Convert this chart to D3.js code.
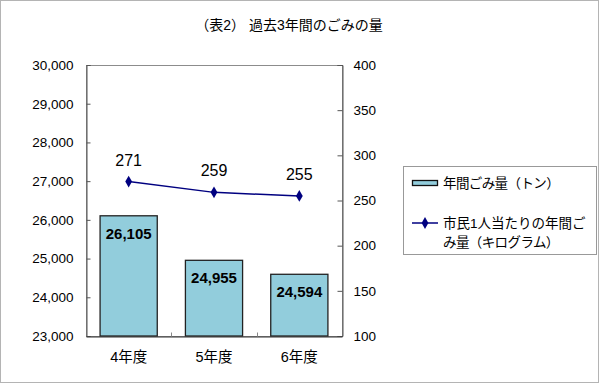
<html>
<head>
<meta charset="utf-8">
<style>
  body { margin: 0; background: #fff; }
  text { font-family: "Liberation Sans", Arial, "Noto Sans CJK JP", sans-serif; fill: #000; }
  .jp { font-family: "Liberation Sans", "Noto Sans CJK JP", sans-serif; }
</style>
</head>
<body>
<svg id="chart" width="600" height="385"></svg>
<script src="https://cdn.jsdelivr.net/npm/d3@7"></script>
<script>
  // data
  let categories = ["4年度", "5年度", "6年度"]
  let tonnage = [26105, 24955, 24594]
  let perCapita = [271, 259, 255]
  let leftTicks = [23000, 24000, 25000, 26000, 27000, 28000, 29000, 30000]
  let rightTicks = [100, 150, 200, 250, 300, 350, 400]
  let titleText = "（表2） 過去3年間のごみの量"
  let legendBar = "年間ごみ量（トン）"
  let legendLine = ["市民1人当たりの年間ご", "み量（キログラム）"]

  let svg = d3.select("#chart")

  // outer frame
  svg.append("rect")
      .attr("x", 0.5).attr("y", 0.5)
      .attr("width", 598).attr("height", 382)
      .attr("fill", "#fff").attr("stroke", "#b4b4b4")

  let plotL = 86, plotR = 342, plotT = 65, plotB = 336

  let x = d3.scaleBand().domain(categories).range([plotL, plotR])
  let yLeft = d3.scaleLinear().domain([23000, 30000]).range([plotB, plotT])
  let yRight = d3.scaleLinear().domain([100, 400]).range([plotB, plotT])

  // title
  svg.append("text")
      .attr("class", "jp")
      .attr("x", 289).attr("y", 30)
      .attr("text-anchor", "middle")
      .style("font-size", "14px")
      .text(titleText)

  // plot frame
  svg.append("rect")
      .attr("x", plotL + 0.5).attr("y", plotT + 0.5)
      .attr("width", plotR - plotL).attr("height", plotB - plotT)
      .attr("fill", "none").attr("stroke", "#8c8c8c")

  // bars
  let barW = x.bandwidth() * 0.67
  svg.selectAll(".bar")
      .data(tonnage)
      .enter().append("rect")
      .attr("class", "bar")
      .attr("x", (d, i) => x(categories[i]) + (x.bandwidth() - barW) / 2)
      .attr("y", d => yLeft(d))
      .attr("width", barW)
      .attr("height", d => plotB - yLeft(d))
      .attr("fill", "#92cddc")
      .attr("stroke", "#222")
      .attr("stroke-width", 1.3)

  // left axis
  let gl = svg.append("g")
      .attr("transform", "translate(" + (plotL + 0.5) + ",0)")
      .call(d3.axisRight(yLeft).tickValues(leftTicks).tickSize(4).tickFormat(d3.format(",")))
  gl.select(".domain").attr("stroke", "#555")
  gl.selectAll(".tick line").attr("stroke", "#555")
  gl.selectAll(".tick text")
      .attr("x", -13).attr("text-anchor", "end")
      .style("font-size", "13.5px").style("font-family", "'Liberation Sans', Arial")

  // right axis
  let gr = svg.append("g")
      .attr("transform", "translate(" + (plotR + 0.5) + ",0)")
      .call(d3.axisLeft(yRight).tickValues(rightTicks).tickSize(5))
  gr.select(".domain").attr("stroke", "#555")
  gr.selectAll(".tick line").attr("stroke", "#555")
  gr.selectAll(".tick text")
      .attr("x", 11).attr("text-anchor", "start")
      .style("font-size", "13.5px").style("font-family", "'Liberation Sans', Arial")

  // bottom axis
  let gb = svg.append("g")
      .attr("transform", "translate(0," + (plotB + 0.5) + ")")
      .call(d3.axisTop(x).tickSize(0).tickFormat(""))
  gb.select(".domain").attr("stroke", "#333")
  categories.slice(1).forEach(c => {
      gb.append("line")
          .attr("x1", Math.round(x(c)) + 0.5).attr("x2", Math.round(x(c)) + 0.5)
          .attr("y1", 0).attr("y2", -4)
          .attr("stroke", "#888")
  })
  svg.selectAll(".cat")
      .data(categories)
      .enter().append("text")
      .attr("class", "cat jp")
      .attr("x", d => x(d) + x.bandwidth() / 2)
      .attr("y", 362)
      .attr("text-anchor", "middle")
      .style("font-size", "14.5px")
      .text(d => d)

  // bar labels
  svg.selectAll(".barlabel")
      .data(tonnage)
      .enter().append("text")
      .attr("x", (d, i) => x(categories[i]) + x.bandwidth() / 2)
      .attr("y", d => yLeft(d) + 23)
      .attr("text-anchor", "middle")
      .style("font-size", "15px").style("font-weight", "bold")
      .text(d => d3.format(",")(d))

  // line
  let line = d3.line()
      .x((d, i) => x(categories[i]) + x.bandwidth() / 2)
      .y(d => yRight(d))
  svg.append("path")
      .datum(perCapita)
      .attr("d", line)
      .attr("fill", "none")
      .attr("stroke", "#000080")
      .attr("stroke-width", 1.5)

  let diamond = d3.symbol().type(d3.symbolDiamond).size(40)
  svg.selectAll(".pt")
      .data(perCapita)
      .enter().append("path")
      .attr("d", diamond)
      .attr("transform", (d, i) => "translate(" + (x(categories[i]) + x.bandwidth() / 2) + "," + yRight(d) + ")")
      .attr("fill", "#000080")

  svg.selectAll(".ptlabel")
      .data(perCapita)
      .enter().append("text")
      .attr("x", (d, i) => x(categories[i]) + x.bandwidth() / 2)
      .attr("y", d => yRight(d) - 16)
      .attr("text-anchor", "middle")
      .style("font-size", "16px")
      .text(d => d)

  // legend
  let lg = svg.append("g").attr("transform", "translate(403,166)")
  lg.append("rect")
      .attr("x", 0.5).attr("y", 0.5)
      .attr("width", 193).attr("height", 88)
      .attr("fill", "#fff").attr("stroke", "#999")
  lg.append("rect")
      .attr("x", 9.5).attr("y", 14.5)
      .attr("width", 25).attr("height", 5)
      .attr("fill", "#92cddc").attr("stroke", "#111").attr("stroke-width", 1.3)
  lg.append("text")
      .attr("class", "jp")
      .attr("x", 40).attr("y", 22)
      .style("font-size", "13.5px")
      .style("letter-spacing", "-0.6px")
      .text(legendBar)
  lg.append("line")
      .attr("x1", 9).attr("x2", 35).attr("y1", 57).attr("y2", 57)
      .attr("stroke", "#000080").attr("stroke-width", 1.5)
  lg.append("path")
      .attr("d", diamond)
      .attr("transform", "translate(22,57)")
      .attr("fill", "#000080")
  lg.selectAll(".lgl")
      .data(legendLine)
      .enter().append("text")
      .attr("class", "jp")
      .attr("x", 40)
      .attr("y", (d, i) => 62 + i * 19)
      .style("font-size", "13.5px")
      .style("letter-spacing", (d, i) => i ? "-0.6px" : "0px")
      .text(d => d)
</script>
</body>
</html>
